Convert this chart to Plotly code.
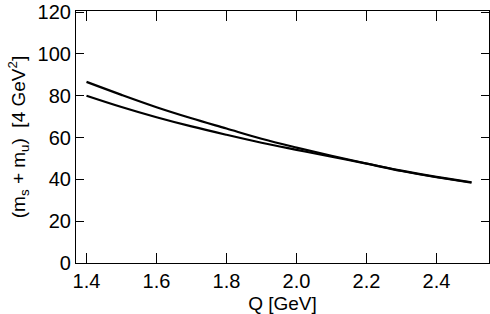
import plotly.graph_objects as go

Q = [1.40, 1.50, 1.60, 1.70, 1.80, 1.90, 2.00, 2.10, 2.20, 2.30, 2.40, 2.50]
upper = [86.6, 80.4, 74.5, 69.2, 64.3, 59.4, 55.2, 51.3, 47.6, 44.2, 41.2, 38.6]
lower = [80.0, 74.6, 69.7, 65.3, 61.3, 57.5, 54.1, 50.8, 47.5, 44.0, 41.0, 38.4]

x_ticks = [1.4, 1.6, 1.8, 2.0, 2.2, 2.4]
y_ticks = [0, 20, 40, 60, 80, 100, 120]

fig = go.Figure()
for ys in (upper, lower):
    fig.add_trace(go.Scatter(x=Q, y=ys, mode="lines", line=dict(color="black", width=2.2, shape="spline"),
                             showlegend=False))

font = dict(family="Liberation Sans", size=20, color="black")
fig.update_layout(
    width=490, height=314,
    margin=dict(l=76, r=1, t=11, b=51),
    paper_bgcolor="white", plot_bgcolor="white",
    font=font,
    xaxis=dict(range=[1.37, 2.55], tickvals=x_ticks, tickformat=".1f", ticks="inside", ticklen=10,
               tickcolor="black", showline=True, linecolor="black", linewidth=1.2, mirror="ticks",
               showgrid=False, zeroline=False, tickfont=dict(size=20), automargin=False,
               title=dict(text="Q [GeV]", standoff=11, font=dict(size=19))),
    yaxis=dict(range=[0, 120.5], tickvals=y_ticks, ticks="inside", ticklen=8,
               tickcolor="black", showline=True, linecolor="black", linewidth=1.2, mirror="ticks",
               showgrid=False, zeroline=False, tickfont=dict(size=20), automargin=False,
               title=dict(text="(m<sub>s</sub> + m<sub>u</sub>)  [4 GeV<sup>2</sup>]", standoff=6,
                          font=dict(size=19))),
)
fig.write_html("out.html", config={"displayModeBar": False},
               post_script="document.body.style.margin='0';")
